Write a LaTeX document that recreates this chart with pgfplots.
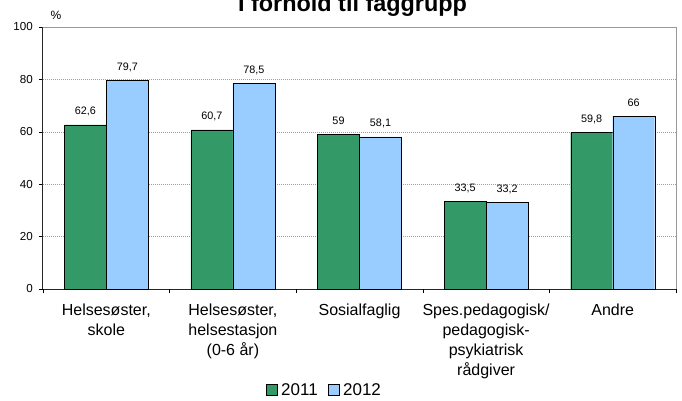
\documentclass[border=0pt]{standalone}
\usepackage{pgfplots}
\pgfplotsset{compat=1.18}
\usepackage{fontspec}
\setmainfont{Liberation Sans}
\definecolor{cgreen}{HTML}{339966}
\definecolor{cblue}{HTML}{99CCFF}
\begin{document}
\begin{tikzpicture}
\begin{axis}[
  scale only axis, width=633pt, height=262pt,
  at={(0pt,0pt)}, anchor=south west,
  ybar=0pt, bar width=42pt,
  xmin=-0.5, xmax=4.5, ymin=0, ymax=100,
  ytick={0,20,...,100},
  xtick={0,1,2,3,4},
  xticklabels={{Helsesøster,\\skole},{Helsesøster,\\helsestasjon\\(0-6 år)},{Sosialfaglig},{Spes.pedagogisk/\\pedagogisk-\\psykiatrisk\\rådgiver},{Andre}},
  extra x ticks={-0.5,0.5,1.5,2.5,3.5,4.5},
  extra x tick labels={},
  extra x tick style={grid=none, major tick length=4pt, major x tick style={draw=black, thin}},
  major x tick style={draw=none},
  ymajorgrids,
  major grid style={gray!75, dash pattern=on 1pt off 1pt},
  tick align=outside,
  major tick length=4pt,
  axis x line*=bottom, axis y line*=left,
  axis line style={black!85, line width=1pt, -},
  ytick style={black, thin},
  /pgf/number format/assume math mode=true,
  /pgf/number format/use comma,
  yticklabel style={font=\fontsize{11.6}{13}\selectfont, inner sep=0pt, xshift=-6pt},
  xticklabel style={font=\fontsize{16}{20}\selectfont, align=center, anchor=north, inner sep=0pt, yshift=-11pt},
  nodes near coords,
  every node near coord/.append style={font=\fontsize{10.8}{13}\selectfont, anchor=base, inner sep=0pt, yshift=10pt},
  legend columns=2,
  legend style={at={(0.4445,-0.385)}, anchor=center, draw=none, fill=none, inner sep=0pt,
    font=\fontsize{17}{20}\selectfont,
    /tikz/every even column/.append style={column sep=9pt},
    nodes={inner sep=1.5pt}},
  legend image code/.code={\draw[#1] (0pt,-5.5pt) rectangle (11pt,5.5pt);},
  legend cell align=left,
  clip=false,
]
\addplot[fill=cgreen, draw=black, thin] coordinates {(0,62.6) (1,60.7) (2,59) (3,33.5) (4,59.8)};
\addplot[fill=cblue, draw=black, thin] coordinates {(0,79.7) (1,78.5) (2,58.1) (3,33.2) (4,66)};
\legend{\hspace{2pt}2011,\hspace{2pt}2012}
\draw[gray!80, thin] (rel axis cs:0,1) -- (rel axis cs:1,1) -- (rel axis cs:1,0);
\node[font=\fontsize{12}{14}\selectfont, anchor=center] at (rel axis cs:0.0205,1.046) {\%};
\node[font=\bfseries\fontsize{23.4}{26}\selectfont, anchor=base] at (rel axis cs:0.489,1.061) {I forhold til faggrupp};
\end{axis}
\pgfresetboundingbox
\useasboundingbox (-43pt,-111pt) rectangle (639pt,289pt);
\end{tikzpicture}
\end{document}
